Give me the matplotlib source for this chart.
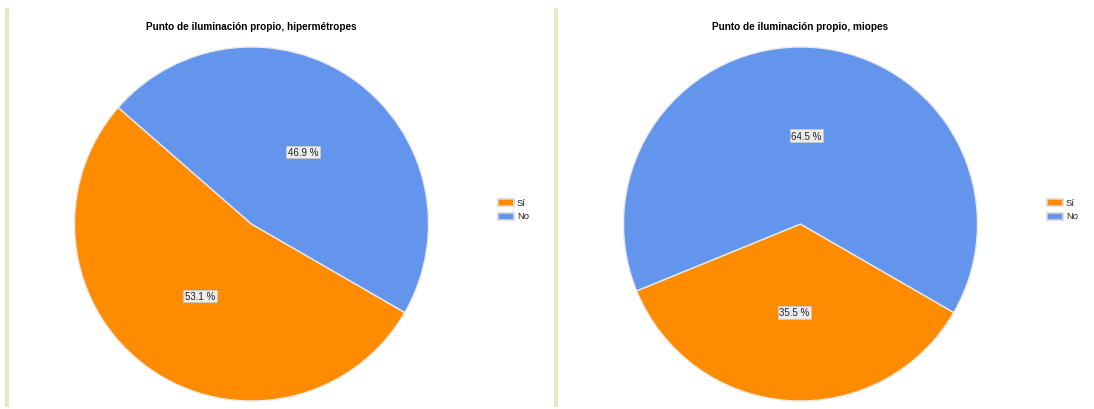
import matplotlib
matplotlib.use("Agg")
import matplotlib.pyplot as plt
from matplotlib.patches import Rectangle

plt.rcParams['font.family'] = ['Liberation Sans', 'DejaVu Sans']

categories = ["Sí", "No"]
hiper_values = [53.1, 46.9]
miopes_values = [35.5, 64.5]
titles = ["Punto de iluminación propio, hipermétropes", "Punto de iluminación propio, miopes"]
colors = ["#ff8c00", "#6495ed"]

W, H = 1094, 410
fig = plt.figure(figsize=(W / 100, H / 100), dpi=100)
fig.patch.set_facecolor("white")

def px_axes(x0, y0, w, h):
    return fig.add_axes([x0 / W, 1 - (y0 + h) / H, w / W, h / H])

panels = [(0, hiper_values, titles[0]), (549, miopes_values, titles[1])]
for off, vals, title in panels:
    # left border bar
    fig.patches.append(Rectangle(((off + 5) / W, 1 - 408 / H), 4 / W, 399 / H,
                                 transform=fig.transFigure, facecolor="#e5ebbf",
                                 edgecolor="none"))
    cx, cy, r = 251.5 + off, 225, 177
    ax = px_axes(cx - r, cy - r, 2 * r, 2 * r)
    wedges, texts, autotexts = ax.pie(
        vals, colors=colors, startangle=-30, counterclock=False,
        autopct=lambda p: f"{p:.1f} %", pctdistance=0.5,
        wedgeprops=dict(edgecolor="#e8e8e8", linewidth=1.0),
        textprops=dict(fontsize=7, color="#222222"))
    for t in autotexts:
        t.set_bbox(dict(facecolor="#ececec", edgecolor="#c8c8c8", linewidth=0.6,
                        boxstyle="square,pad=0.15"))
    ax.set_xlim(-1.0, 1.0)
    ax.set_ylim(-1.0, 1.0)
    ax.axis("off")
    fig.text((cx) / W, 1 - 27 / H, title, ha="center", va="center",
             fontsize=7.2, fontweight="bold", color="#000000")
    # legend
    lx = 498 + off
    for i, (lab, col) in enumerate(zip(categories, colors)):
        ly = 203.5 + i * 13.5
        fig.patches.append(Rectangle((lx / W, 1 - (ly + 3.5) / H), 16 / W, 7 / H,
                                     transform=fig.transFigure, facecolor=col,
                                     edgecolor="#d8d8d8", linewidth=1.2))
        fig.text((lx + 19) / W, 1 - ly / H, lab, ha="left", va="center",
                 fontsize=6.8, color="#222222")

fig.savefig("out.png", dpi=100, facecolor="white")
